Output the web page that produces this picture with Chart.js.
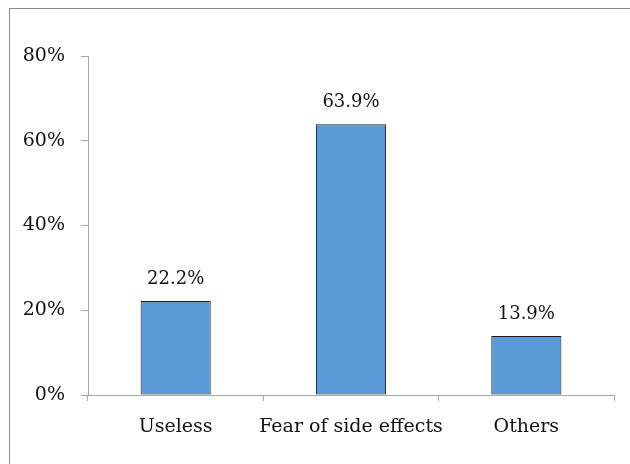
<!DOCTYPE html>
<html>
<head>
<meta charset="utf-8">
<script src="https://cdn.jsdelivr.net/npm/chart.js@4/dist/chart.umd.min.js"></script>
<style>
  html, body { margin: 0; padding: 0; background: #fff; overflow: hidden; }
  #wrap { position: absolute; left: 0; top: 0; width: 630px; height: 464px; overflow: hidden; }
  #frame { position: absolute; left: 9px; top: 8px; width: 640px; height: 470px;
           border-left: 1px solid #8c8c8c; border-top: 1px solid #8c8c8c; }
  canvas { position: absolute; left: 0; top: 0; }
</style>
</head>
<body>
<div id="wrap">
  <div id="frame"></div>
  <canvas id="c" width="630" height="464"></canvas>
</div>
<script>
// Reasons given, share of respondents
const categories = ['Useless', 'Fear of side effects', 'Others'];
const shares = [0.222, 0.639, 0.139];
const yTicks = [0, 0.2, 0.4, 0.6, 0.8];

const FONT = '"DejaVu Serif", "Liberation Serif", serif';
const pct = (v, d) => (v * 100).toFixed(d) + '%';

// Value labels above each bar
const valueLabels = {
  id: 'valueLabels',
  afterDatasetsDraw(chart) {
    const ctx = chart.ctx;
    const meta = chart.getDatasetMeta(0);
    ctx.save();
    ctx.font = '18px ' + FONT;
    ctx.fillStyle = '#111';
    ctx.textAlign = 'center';
    ctx.textBaseline = 'bottom';
    meta.data.forEach((bar, i) => {
      ctx.fillText(pct(chart.data.datasets[0].data[i], 1), bar.x, bar.y - 13);
    });
    ctx.restore();
  }
};

new Chart(document.getElementById('c'), {
  type: 'bar',
  data: {
    labels: categories,
    datasets: [{
      data: shares,
      backgroundColor: '#5B9BD5',
      borderColor: '#1c1c1c',
      borderWidth: 1,
      borderSkipped: false,
      barPercentage: 0.4,
      categoryPercentage: 1.0
    }]
  },
  options: {
    responsive: false,
    animation: false,
    layout: { padding: { top: 56, right: 16, left: 0, bottom: 0 } },
    plugins: { legend: { display: false }, tooltip: { enabled: false } },
    scales: {
      x: {
        grid: { offset: true, drawOnChartArea: false, drawTicks: true, tickLength: 6, color: '#a6a6a6' },
        border: { color: '#a6a6a6', width: 1 },
        ticks: { color: '#111', font: { family: FONT, size: 19 }, padding: 15,
                 maxRotation: 0, minRotation: 0, autoSkip: false },
        afterFit(s) { s.height = 69; }
      },
      y: {
        min: 0, max: 0.8,
        afterBuildTicks(s) { s.ticks = yTicks.map(v => ({ value: v })); },
        grid: { drawOnChartArea: false, drawTicks: true, tickLength: 7, color: '#a6a6a6' },
        border: { color: '#a6a6a6', width: 1 },
        ticks: { color: '#111', font: { family: FONT, size: 19 }, padding: 16,
                 callback: v => pct(v, 0) },
        afterFit(s) { s.width = 88; }
      }
    }
  },
  plugins: [valueLabels]
});
</script>
</body>
</html>
